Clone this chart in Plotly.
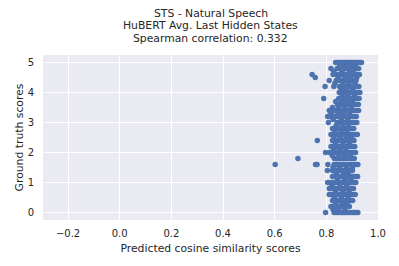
import plotly.graph_objects as go

score_levels = [5.0, 4.9, 4.8, 4.7, 4.6, 4.5, 4.4, 4.3, 4.2, 4.1, 4.0, 3.9, 3.8, 3.7, 3.6, 3.5,
                3.4, 3.3, 3.2, 3.1, 3.0, 2.9, 2.8, 2.7, 2.6, 2.5, 2.4, 2.3, 2.2, 2.1, 2.0, 1.9,
                1.8, 1.6, 1.5, 1.4, 1.3, 1.2, 1.1, 1.0, 0.9, 0.8, 0.7, 0.6, 0.5, 0.4, 0.3, 0.2,
                0.1, 0.0]

predicted_by_level = [
    [0.836, 0.843, 0.849, 0.856, 0.861, 0.868, 0.874, 0.879, 0.886, 0.892, 0.897, 0.904, 0.910, 0.917, 0.923, 0.929, 0.936],
    [0.852, 0.866, 0.881, 0.899, 0.912],
    [0.818, 0.842, 0.848, 0.857, 0.863, 0.871, 0.878, 0.884, 0.893, 0.901, 0.909, 0.916, 0.925],
    [0.829, 0.861, 0.889, 0.905],
    [0.745, 0.826, 0.838, 0.851, 0.859, 0.867, 0.875, 0.883, 0.890, 0.898, 0.906, 0.913, 0.921, 0.928],
    [0.757, 0.846, 0.872, 0.894, 0.918],
    [0.811, 0.838, 0.847, 0.855, 0.862, 0.870, 0.877, 0.885, 0.893, 0.901, 0.908, 0.915],
    [0.833, 0.864, 0.887, 0.911],
    [0.795, 0.829, 0.851, 0.858, 0.866, 0.873, 0.880, 0.888, 0.896, 0.903, 0.911, 0.919, 0.926],
    [0.857, 0.878, 0.902],
    [0.850, 0.856, 0.863, 0.869, 0.876, 0.884, 0.891, 0.899, 0.906, 0.914, 0.922, 0.930],
    [0.862, 0.884, 0.909],
    [0.790, 0.848, 0.855, 0.862, 0.868, 0.875, 0.882, 0.890, 0.897, 0.905, 0.912, 0.920, 0.927],
    [0.836, 0.858, 0.879, 0.901],
    [0.843, 0.850, 0.857, 0.864, 0.872, 0.879, 0.886, 0.894, 0.901, 0.909, 0.916, 0.924],
    [0.824, 0.847, 0.871, 0.896],
    [0.811, 0.822, 0.831, 0.839, 0.847, 0.855, 0.863, 0.870, 0.878, 0.886, 0.893, 0.901, 0.909, 0.917, 0.925],
    [0.818, 0.845, 0.866, 0.889],
    [0.805, 0.811, 0.820, 0.828, 0.836, 0.844, 0.852, 0.860, 0.868, 0.876, 0.884, 0.892, 0.900, 0.907, 0.916],
    [0.826, 0.858, 0.883],
    [0.808, 0.842, 0.849, 0.856, 0.864, 0.871, 0.879, 0.887, 0.894, 0.902, 0.910, 0.918],
    [0.838, 0.862, 0.885],
    [0.824, 0.831, 0.839, 0.846, 0.853, 0.861, 0.868, 0.876, 0.883, 0.891, 0.899, 0.906],
    [0.833, 0.857, 0.880],
    [0.818, 0.826, 0.834, 0.842, 0.849, 0.857, 0.865, 0.872, 0.880, 0.888, 0.896, 0.903, 0.912, 0.920],
    [0.829, 0.853, 0.877, 0.898],
    [0.765, 0.824, 0.831, 0.839, 0.846, 0.854, 0.862, 0.869, 0.877, 0.885, 0.892, 0.900, 0.907],
    [0.836, 0.864, 0.889],
    [0.818, 0.825, 0.833, 0.841, 0.848, 0.856, 0.864, 0.871, 0.879, 0.887, 0.894, 0.902, 0.910],
    [0.829, 0.851, 0.875],
    [0.797, 0.812, 0.820, 0.828, 0.836, 0.843, 0.851, 0.859, 0.866, 0.874, 0.882, 0.889, 0.897, 0.905, 0.913],
    [0.823, 0.848, 0.871, 0.893],
    [0.690, 0.831, 0.839, 0.846, 0.854, 0.862, 0.869, 0.877, 0.885, 0.893, 0.900, 0.908],
    [0.602, 0.758, 0.764, 0.806, 0.830, 0.838, 0.845, 0.853, 0.861, 0.868, 0.876, 0.884, 0.892, 0.899, 0.907, 0.915, 0.922],
    [0.826, 0.851, 0.878, 0.901],
    [0.804, 0.824, 0.832, 0.840, 0.847, 0.855, 0.863, 0.870, 0.878, 0.886, 0.893, 0.901],
    [0.838, 0.866, 0.884],
    [0.824, 0.837, 0.845, 0.852, 0.860, 0.868, 0.875, 0.883, 0.891, 0.898, 0.906, 0.914, 0.921],
    [0.843, 0.872, 0.895],
    [0.805, 0.813, 0.821, 0.829, 0.837, 0.845, 0.852, 0.860, 0.868, 0.876, 0.884, 0.891, 0.899, 0.907, 0.914],
    [0.822, 0.853, 0.879],
    [0.811, 0.819, 0.827, 0.835, 0.843, 0.850, 0.858, 0.866, 0.874, 0.882, 0.889, 0.897, 0.905],
    [0.836, 0.864, 0.888],
    [0.811, 0.819, 0.827, 0.834, 0.842, 0.850, 0.858, 0.865, 0.873, 0.881, 0.889, 0.897, 0.904, 0.912],
    [0.831, 0.858, 0.884],
    [0.824, 0.832, 0.840, 0.848, 0.855, 0.863, 0.871, 0.879, 0.887, 0.895, 0.902],
    [0.836, 0.861, 0.880],
    [0.818, 0.826, 0.834, 0.842, 0.849, 0.857, 0.865, 0.873, 0.881, 0.889],
    [0.826, 0.847, 0.872],
    [0.797, 0.830, 0.837, 0.845, 0.853, 0.861, 0.868, 0.876, 0.884, 0.892, 0.900, 0.907, 0.915, 0.922],
]

x_tick_values = [-0.2, 0.0, 0.2, 0.4, 0.6, 0.8, 1.0]
x_tick_labels = ["\u22120.2", "0.0", "0.2", "0.4", "0.6", "0.8", "1.0"]
y_tick_values = [0, 1, 2, 3, 4, 5]

title_lines = ["STS - Natural Speech", "HuBERT Avg. Last Hidden States", "Spearman correlation: 0.332"]

xs, ys = [], []
for level, preds in zip(score_levels, predicted_by_level):
    for p in preds:
        xs.append(p)
        ys.append(level)

FONT = "DejaVu Sans, Liberation Sans, sans-serif"
TXT = "#262626"

# The page body adds an 8px offset; size the figure to fill the rest of the window.
OFF = 8
W, H = 399 - OFF, 266 - OFF
ML, MR, MT, MB = 43 - OFF, 21, 55 - OFF, 46
PLOT_H = H - MT - MB

fig = go.Figure(go.Scatter(
    x=xs, y=ys, mode="markers",
    marker=dict(color="#4C72B0", size=5.5, line=dict(width=0)),
    showlegend=False,
))

title_centers_px = [13 - OFF, 25.5 - OFF, 38 - OFF]
annotations = []
for line, yc in zip(title_lines, title_centers_px):
    annotations.append(dict(
        text=line, showarrow=False,
        xref="paper", x=0.5, xanchor="center",
        yref="paper", y=1 + (MT - yc) / PLOT_H, yanchor="middle",
        font=dict(family=FONT, size=10.8, color=TXT),
    ))

fig.update_layout(
    width=W, height=H,
    margin=dict(l=ML, r=MR, t=MT, b=MB, autoexpand=False),
    paper_bgcolor="white",
    plot_bgcolor="#EAEAF2",
    font=dict(family=FONT, size=10, color=TXT),
    annotations=annotations,
)

fig.update_xaxes(
    range=[-0.297, 1.0],
    tickvals=x_tick_values, ticktext=x_tick_labels,
    showgrid=True, gridcolor="white", gridwidth=1,
    zeroline=False, showline=False, automargin=False,
    ticks="", ticklabelstandoff=6,
    title=dict(text="Predicted cosine similarity scores", standoff=6,
               font=dict(family=FONT, size=10.8, color=TXT)),
)
fig.update_yaxes(
    range=[-0.25, 5.25],
    tickvals=y_tick_values,
    showgrid=True, gridcolor="white", gridwidth=1,
    zeroline=False, showline=False, automargin=False,
    ticks="", ticklabelstandoff=8,
    title=dict(text="Ground truth scores", standoff=1,
               font=dict(family=FONT, size=10.8, color=TXT)),
)

fig.write_html("out.html")
